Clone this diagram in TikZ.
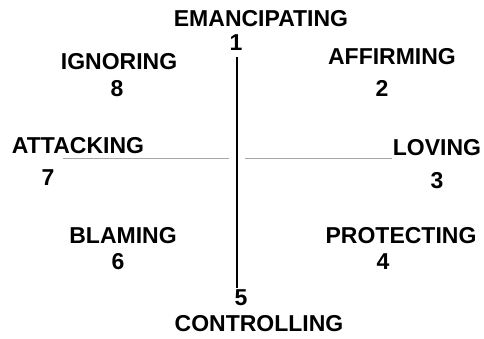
\documentclass[tikz,border=0pt]{standalone}
\usepackage{fontspec}
\setmainfont{Liberation Sans}

\begin{document}
\begin{tikzpicture}[x=1pt,y=-1pt,
  lbl/.style={font=\fontsize{23}{23}\selectfont\bfseries, inner sep=0pt},
  vline/.style={line width=1.3pt},
  hline/.style={gray!70, line width=0.8pt}]
  \useasboundingbox (0,0) rectangle (484,339);
  % labels and numbers
  \foreach \n/\t/\x/\y in {emanc/EMANCIPATING/261/19, one/1/236/43,
      ignor/IGNORING/119/62, eight/8/117/89,
      affirm/AFFIRMING/392/57, two/2/382/88,
      attack/ATTACKING/78/146, seven/7/48/178,
      loving/LOVING/437/148, three/3/437/181,
      blame/BLAMING/123/236, six/6/118/262,
      protect/PROTECTING/401/236, four/4/383/262,
      five/5/241/298, control/CONTROLLING/259/324}
    \node[lbl] (\n) at (\x,\y) {\t};

  \coordinate (w) at (63,158);
  \coordinate (c) at (237,158);
  \coordinate (e) at (392,158);
  \draw[vline, shorten <=6pt, shorten >=2pt] (c |- one.south) -- (c |- five.north);
  \draw[hline, shorten >=8pt] (w) -- (c);
  \draw[hline, shorten <=8pt] (c) -- (e);
\end{tikzpicture}
\end{document}
